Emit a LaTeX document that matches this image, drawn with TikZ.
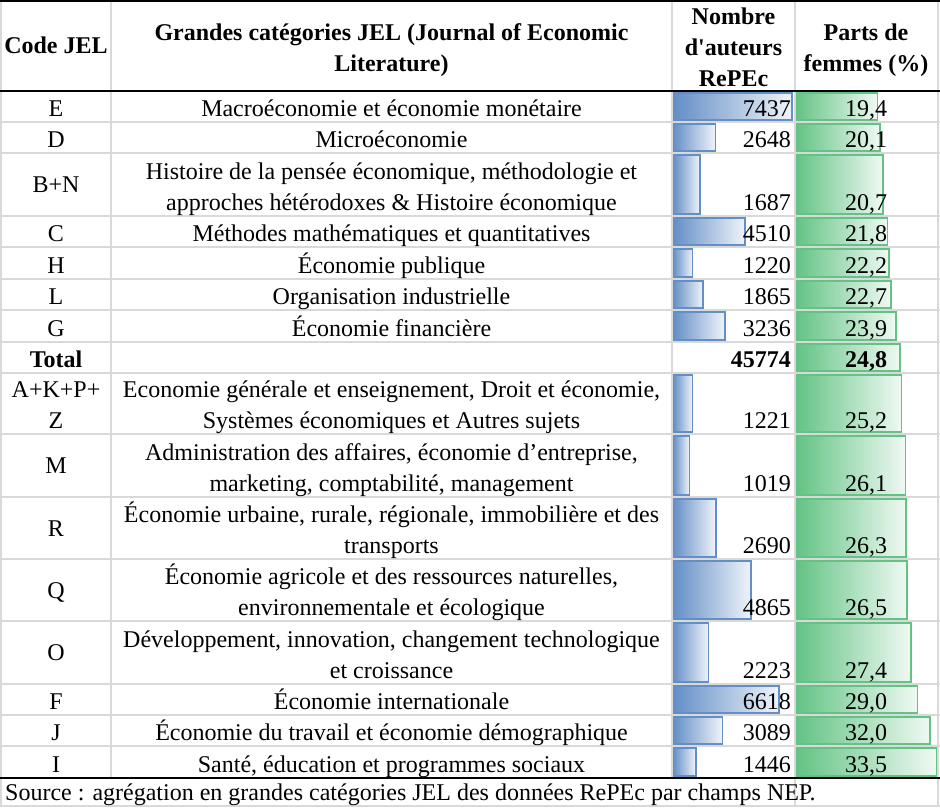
\documentclass[tikz,border=0pt]{standalone}
\usepackage{fontspec}
\newfontfamily\cellfont{Liberation Serif}
\definecolor{gridgray}{HTML}{D9D9D9}
\definecolor{barblue}{HTML}{638EC6}
\definecolor{bargreen}{HTML}{63C384}
\begin{document}
\begin{tikzpicture}[x=1pt,y=-1pt,
    every node/.style={inner sep=0pt,font=\cellfont\fontsize{24}{31}\selectfont},
    cell/.style={anchor=base},
    num/.style={anchor=base east},
    head/.style={anchor=base,font=\cellfont\bfseries\fontsize{24}{31}\selectfont},
    nbar/.style={left color=barblue,right color=barblue!10,postaction={draw=barblue,line width=1.6pt}},
    pbar/.style={left color=bargreen,right color=bargreen!10,postaction={draw=bargreen,line width=1.6pt}},
    thin rule/.style={draw=gridgray,line width=1.5pt},
    thick rule/.style={draw=black,line width=1.6pt}]
      \useasboundingbox (0,0) rectangle (940,808);
      \fill[white] (0,0) rectangle (940,808);
      % data bars, authors
      \begin{scope}
        \shade[nbar] (673,93) rectangle ++(119.0,27);
        \shade[nbar] (673,124) rectangle ++(42.4,27);
        \shade[nbar] (673,155) rectangle ++(27.0,59);
        \shade[nbar] (673,218) rectangle ++(72.2,27);
        \shade[nbar] (673,249) rectangle ++(19.5,28);
        \shade[nbar] (673,281) rectangle ++(29.8,27);
        \shade[nbar] (673,312) rectangle ++(51.8,28);
        \shade[nbar] (673,375) rectangle ++(19.5,57);
        \shade[nbar] (673,436) rectangle ++(16.3,59);
        \shade[nbar] (673,499) rectangle ++(43.0,58);
        \shade[nbar] (673,561) rectangle ++(77.8,58);
        \shade[nbar] (673,623) rectangle ++(35.6,59);
        \shade[nbar] (673,686) rectangle ++(105.9,27);
        \shade[nbar] (673,717) rectangle ++(49.4,27);
        \shade[nbar] (673,748) rectangle ++(23.1,28);
      \end{scope}
      % data bars, share of women
      \begin{scope}
        \shade[pbar] (796,93) rectangle ++(81.3,27);
        \shade[pbar] (796,124) rectangle ++(84.2,27);
        \shade[pbar] (796,155) rectangle ++(86.7,59);
        \shade[pbar] (796,218) rectangle ++(91.3,27);
        \shade[pbar] (796,249) rectangle ++(93.0,28);
        \shade[pbar] (796,281) rectangle ++(95.1,27);
        \shade[pbar] (796,312) rectangle ++(100.1,28);
        \shade[pbar] (796,344) rectangle ++(103.9,27);
        \shade[pbar] (796,375) rectangle ++(105.6,57);
        \shade[pbar] (796,436) rectangle ++(109.4,59);
        \shade[pbar] (796,499) rectangle ++(110.2,58);
        \shade[pbar] (796,561) rectangle ++(111.0,58);
        \shade[pbar] (796,623) rectangle ++(114.8,59);
        \shade[pbar] (796,686) rectangle ++(121.5,27);
        \shade[pbar] (796,717) rectangle ++(134.1,27);
        \shade[pbar] (796,748) rectangle ++(140.4,28);
      \end{scope}
      % grid
      \begin{scope}[thin rule]
        \draw (0,122) -- (940,122);
        \draw (0,153) -- (940,153);
        \draw (0,216) -- (940,216);
        \draw (0,247) -- (940,247);
        \draw (0,279) -- (940,279);
        \draw (0,310) -- (940,310);
        \draw (0,342) -- (940,342);
        \draw (0,373) -- (940,373);
        \draw (0,434) -- (940,434);
        \draw (0,497) -- (940,497);
        \draw (0,559) -- (940,559);
        \draw (0,621) -- (940,621);
        \draw (0,684) -- (940,684);
        \draw (0,715) -- (940,715);
        \draw[line width=2.5pt] (0,746) -- (940,746);
        \draw (0,806) -- (940,806);
        \draw (1,1) -- (1,806);
        \draw (111,1) -- (111,778);
        \draw (672,1) -- (672,778);
        \draw (795,1) -- (795,806);
        \draw (938,1) -- (938,806);
      \end{scope}
      \begin{scope}[thick rule]
        \draw (0,1) -- (940,1);
        \draw (0,91) -- (940,91);
        \draw (0,778) -- (940,778);
      \end{scope}
      % header
      \node[head] (hCode) at (56,54) {Code JEL};
      \node[head] (hCat1) at (391.5,41) {Grandes catégories JEL (Journal of Economic};
      \node[head] (hCat2) at (391.5,71) {Literature)};
      \node[head] (hNb1) at (733.5,25) {Nombre};
      \node[head] (hNb2) at (733.5,55.5) {d'auteurs};
      \node[head] (hNb3) at (733.5,86) {RePEc};
      \node[head] (hPt1) at (866,41) {Parts de};
      \node[head] (hPt2) at (866,71) {femmes (\%)};
      % rows
      \node[cell] (cE) at (56,116) {E};
      \node[cell] (dE) at (391.5,116) {Macroéconomie et économie monétaire};
      \node[num] (nE) at (791,116) {7437};
      \node[cell] (pE) at (866,116) {19,4};
      \node[cell] (cD) at (56,147) {D};
      \node[cell] (dD) at (391.5,147) {Microéconomie};
      \node[num] (nD) at (791,147) {2648};
      \node[cell] (pD) at (866,147) {20,1};
      \node[cell] (cBN) at (56,192.5) {B+N};
      \node[cell] (dBN1) at (391.5,179) {Histoire de la pensée économique, méthodologie et};
      \node[cell] (dBN2) at (391.5,210) {approches hétérodoxes \& Histoire économique};
      \node[num] (nBN) at (791,210) {1687};
      \node[cell] (pBN) at (866,210) {20,7};
      \node[cell] (cC) at (56,241) {C};
      \node[cell] (dC) at (391.5,241) {Méthodes mathématiques et quantitatives};
      \node[num] (nC) at (791,241) {4510};
      \node[cell] (pC) at (866,241) {21,8};
      \node[cell] (cH) at (56,273) {H};
      \node[cell] (dH) at (391.5,273) {Économie publique};
      \node[num] (nH) at (791,273) {1220};
      \node[cell] (pH) at (866,273) {22,2};
      \node[cell] (cL) at (56,304) {L};
      \node[cell] (dL) at (391.5,304) {Organisation industrielle};
      \node[num] (nL) at (791,304) {1865};
      \node[cell] (pL) at (866,304) {22,7};
      \node[cell] (cG) at (56,336) {G};
      \node[cell] (dG) at (391.5,336) {Économie financière};
      \node[num] (nG) at (791,336) {3236};
      \node[cell] (pG) at (866,336) {23,9};
      \node[head] (cTot) at (56,367) {Total};
      \node[head,anchor=base east] (nTot) at (791,367) {45774};
      \node[head] (pTot) at (866,367) {24,8};
      \node[cell] (cA1) at (56,397) {A+K+P+};
      \node[cell] (cA2) at (56,428) {Z};
      \node[cell] (dA1) at (391.5,397) {Economie générale et enseignement, Droit et économie,};
      \node[cell] (dA2) at (391.5,428) {Systèmes économiques et Autres sujets};
      \node[num] (nA) at (791,428) {1221};
      \node[cell] (pA) at (866,428) {25,2};
      \node[cell] (cM) at (56,473.5) {M};
      \node[cell] (dM1) at (391.5,460) {Administration des affaires, économie d’entreprise,};
      \node[cell] (dM2) at (391.5,491) {marketing, comptabilité, management};
      \node[num] (nM) at (791,491) {1019};
      \node[cell] (pM) at (866,491) {26,1};
      \node[cell] (cR) at (56,536) {R};
      \node[cell] (dR1) at (391.5,522) {Économie urbaine, rurale, régionale, immobilière et des};
      \node[cell] (dR2) at (391.5,553) {transports};
      \node[num] (nR) at (791,553) {2690};
      \node[cell] (pR) at (866,553) {26,3};
      \node[cell] (cQ) at (56,598) {Q};
      \node[cell] (dQ1) at (391.5,584) {Économie agricole et des ressources naturelles,};
      \node[cell] (dQ2) at (391.5,615) {environnementale et écologique};
      \node[num] (nQ) at (791,615) {4865};
      \node[cell] (pQ) at (866,615) {26,5};
      \node[cell] (cO) at (56,660.5) {O};
      \node[cell] (dO1) at (391.5,647) {Développement, innovation, changement technologique};
      \node[cell] (dO2) at (391.5,678) {et croissance};
      \node[num] (nO) at (791,678) {2223};
      \node[cell] (pO) at (866,678) {27,4};
      \node[cell] (cF) at (56,709) {F};
      \node[cell] (dF) at (391.5,709) {Économie internationale};
      \node[num] (nF) at (791,709) {6618};
      \node[cell] (pF) at (866,709) {29,0};
      \node[cell] (cJ) at (56,740) {J};
      \node[cell] (dJ) at (391.5,740) {Économie du travail et économie démographique};
      \node[num] (nJ) at (791,740) {3089};
      \node[cell] (pJ) at (866,740) {32,0};
      \node[cell] (cI) at (56,772) {I};
      \node[cell] (dI) at (391.5,772) {Santé, éducation et programmes sociaux};
      \node[num] (nI) at (791,772) {1446};
      \node[cell] (pI) at (866,772) {33,5};
      % source
      \node[anchor=base west] (src) at (5,800) {Source : agrégation en grandes catégories JEL des données RePEc par champs NEP.};
    \end{tikzpicture}
\end{document}
